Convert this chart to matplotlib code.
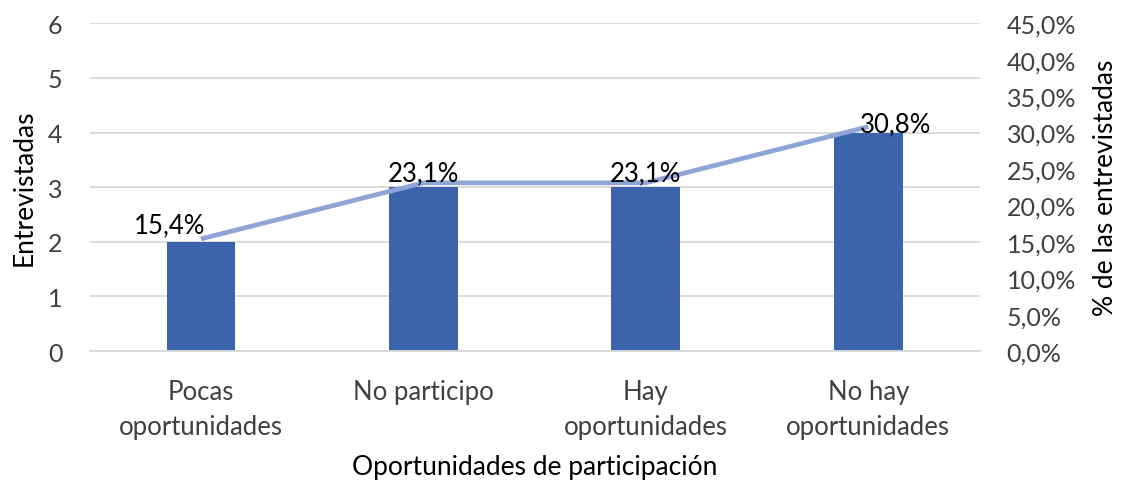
import matplotlib.pyplot as plt

plt.rcParams['font.family'] = ['Lato', 'DejaVu Sans']

categorias = ['Pocas\noportunidades', 'No participo', 'Hay\noportunidades', 'No hay\noportunidades']
entrevistadas = [2, 3, 3, 4]
porcentajes = [15.4, 23.1, 23.1, 30.8]
ticks_izq = [0, 1, 2, 3, 4, 5, 6]
ticks_der = [0, 5, 10, 15, 20, 25, 30, 35, 40, 45]
# desplazamiento de cada etiqueta respecto al punto (px), linea base
desplaz = [(-31, 7), (0, 2), (0, 2), (27, -5)]

bar_color = '#3c64ad'
line_color = '#8fa5d8'
tick_color = '#404040'

fig = plt.figure(figsize=(11.22, 4.85), dpi=100)
ax = fig.add_axes([0.080, 0.274, 0.793, 0.676])

x = range(len(categorias))
ax.bar(x, entrevistadas, width=0.31, color=bar_color, zorder=2)
ax.set_xlim(-0.5, 3.5)
ax.set_ylim(0, 6)
ax.set_yticks(ticks_izq)
ax.set_xticks(list(x))
ax.set_xticklabels(categorias, fontsize=18.5, color=tick_color, linespacing=1.5)
ax.tick_params(axis='y', labelsize=18, colors=tick_color, length=0, pad=19.5)
ax.tick_params(axis='x', length=0, pad=20)
ax.grid(axis='y', color='#d9d9d9', linewidth=1.3, zorder=0)
ax.set_axisbelow(True)
for s in ['top', 'right', 'left']:
    ax.spines[s].set_visible(False)
ax.spines['bottom'].set_color('#d9d9d9')
ax.spines['bottom'].set_linewidth(1.3)
ax.set_ylabel('Entrevistadas', fontsize=19, color='black', labelpad=8)
ax.set_xlabel('Oportunidades de participación', fontsize=19, color='black', labelpad=11)

ax2 = ax.twinx()
ax2.plot(list(x), porcentajes, color=line_color, linewidth=3.4, solid_capstyle='butt', zorder=3)
ax2.set_ylim(0, 45)
ax2.set_yticks(ticks_der)
ax2.set_yticklabels([f'{t:.1f}%'.replace('.', ',') for t in ticks_der])
ax2.tick_params(axis='y', labelsize=18, colors=tick_color, length=0, pad=19.5)
for s in ax2.spines.values():
    s.set_visible(False)
ax2.set_ylabel('% de las entrevistadas', fontsize=19, color='black', labelpad=12)

for xi, p, off in zip(x, porcentajes, desplaz):
    ax2.annotate(f'{p:.1f}%'.replace('.', ','), (xi, p), xytext=off,
                 textcoords='offset pixels', ha='center', va='baseline',
                 fontsize=18.5, color='black', zorder=4)

fig.savefig('out.png', dpi=100)
